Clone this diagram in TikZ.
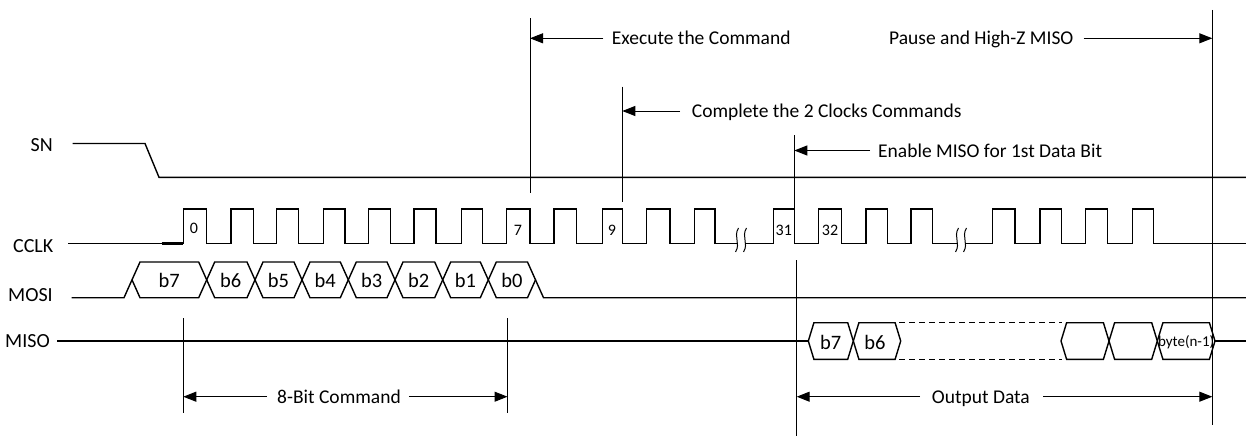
\documentclass[tikz,border=0pt]{standalone}
\usepackage{fontspec}
\setmainfont{Carlito}
\usetikzlibrary{arrows.meta}
\begin{document}
\begin{tikzpicture}[x=1pt,y=-1pt,
  sig/.style={line width=1.4pt, line join=miter},
  vline/.style={line width=1pt},
  dimarrow/.style={line width=1pt,-{Triangle[length=13pt,width=10pt]}},
  lbl/.style={font=\fontsize{19.5}{22}\selectfont, inner sep=0pt, text height=13pt, text depth=0pt},
  signame/.style={font=\fontsize{20}{22}\selectfont, inner sep=0pt, text height=13pt, text depth=0pt, anchor=east},
  hexl/.style={font=\fontsize{20.5}{22}\selectfont, inner sep=0pt, text height=14pt, text depth=0pt},
  num/.style={font=\fontsize{16}{18}\selectfont, inner sep=0pt, text height=10.5pt, text depth=0pt},
  small/.style={font=\fontsize{15}{17}\selectfont, inner sep=0pt, text height=11pt, text depth=0pt, anchor=west},
]
\useasboundingbox (0,0) rectangle (1246,436);

% ---------- signal names
\node[signame] (sn)   at (53,145.3)  {SN};
\node[signame] (cclk) at (53.5,245.8) {CCLK};
\node[signame] (mosi) at (53,294.7)  {MOSI};
\node[signame] (miso) at (50,341)    {MISO};

% ---------- SN
\draw[sig] (72.7,143.5) -- (145,143.5) -- (159,177.3) -- (1246,177.3);

% ---------- CCLK
\draw[sig] (68.3,243.3)
  foreach \r/\f in {183.3/206.7,231/253.3,276.7/298.3,323.3/345,368.3/390.7,414/436,461.7/482.3,506.7/530,554/576.7,602.3/622.3,646.7/670,694.3/715}
  { -- (\r,243.3) -- (\r,209) -- (\f,209) -- (\f,243.3) } -- (737,243.3);
\draw[sig] (745,243.3)
  foreach \r/\f in {773.3/794.3,818.3/841.7,866/887.3,911/932.3}
  { -- (\r,243.3) -- (\r,209) -- (\f,209) -- (\f,243.3) } -- (957,243.3);
\draw[sig] (965,243.3)
  foreach \r/\f in {992.7/1015,1040/1061.7,1085.7/1107.3,1132.7/1153.3}
  { -- (\r,243.3) -- (\r,209) -- (\f,209) -- (\f,243.3) } -- (1246,243.3);
\draw[line width=2.4pt] (161.7,243.3) -- (183.3,243.3);
% break marks
\foreach \bx in {737,745,957,965}
  \draw[line width=1pt] (\bx+1.5,228) .. controls (\bx-4,237) and (\bx+4,243) .. (\bx-1.5,252);

% clock numbers
\node[num] (n0)  at (194,228.5) {0};
\node[num] (n7)  at (518,230)   {7};
\node[num] (n9)  at (612,230)   {9};
\node[num] (n31) at (783.8,230) {31};
\node[num] (n32) at (830,230)   {32};

% ---------- MOSI
\draw[sig] (71.7,297.7) -- (124,297.7) -- (132,279.85);
\foreach \ca/\cb in {132/206.7,206.7/255,255/302,302/348.3,348.3/395,395/442.7,442.7/488.3,488.3/535.5}
  \draw[sig] (\ca,279.85) -- (\ca+8,262) -- (\cb-8,262) -- (\cb,279.85) -- (\cb-8,297.7) -- (\ca+8,297.7) -- cycle;
\draw[sig] (535.5,279.85) -- (543.5,297.7) -- (1246,297.7);
\node[hexl] (mb7) at (169.3,280.5) {b7};
\node[hexl] (mb6) at (230.8,280.5) {b6};
\node[hexl] (mb5) at (278.5,280.5) {b5};
\node[hexl] (mb4) at (325.1,280.5) {b4};
\node[hexl] (mb3) at (371.6,280.5) {b3};
\node[hexl] (mb2) at (418.8,280.5) {b2};
\node[hexl] (mb1) at (465.5,280.5) {b1};
\node[hexl] (mb0) at (511.9,280.5) {b0};

% ---------- MISO
\draw[sig] (57,341) -- (808.3,341);
\draw[sig] (1215,341) -- (1246,341);
\foreach \ca/\cb in {808.3/853.3,853.3/900.7,1061/1109,1109/1157.3,1157.3/1215}
  \draw[sig] (\ca,341) -- (\ca+5.6,322.7) -- (\cb-5.6,322.7) -- (\cb,341) -- (\cb-5.6,359.3) -- (\ca+5.6,359.3) -- cycle;
\draw[line width=1pt, dash pattern=on 6pt off 4pt] (899,322.7) -- (1062,322.7);
\draw[line width=1pt, dash pattern=on 6pt off 4pt] (899,359.3) -- (1062,359.3);
\node[hexl] (sb7) at (830.8,342) {b7};
\node[hexl] (sb6) at (875,342)   {b6};
\node[small] (sbn) at (1157.8,340.5) {byte(n-1)};

% ---------- marker lines
\coordinate (eT) at (530,18.3);    \coordinate (eB) at (530,193);
\coordinate (cT) at (622.3,86.7);  \coordinate (cB) at (622.3,201.7);
\coordinate (nT) at (794.3,135);   \coordinate (nB) at (794.3,209);
\coordinate (rT) at (1212.3,10);   \coordinate (rB) at (1212.3,425);
\coordinate (oT) at (796.7,260);   \coordinate (oB) at (796.7,436);
\coordinate (aT) at (183.3,318);   \coordinate (aB) at (183.3,413);
\coordinate (bT) at (507.5,318);   \coordinate (bB) at (507.5,413);
\foreach \t/\b in {eT/eB,cT/cB,nT/nB,rT/rB,oT/oB,aT/aB,bT/bB}
  \draw[vline] (\t) -- (\b);

% ---------- annotations
\node[lbl, anchor=west] (exe) at (611.7,38.3) {Execute the Command};
\draw[dimarrow] ([xshift=-8.4pt]exe.west) -- (eT |- exe.west);

\node[lbl, anchor=west] (pau) at (889,38.3) {Pause and High-Z MISO};
\draw[dimarrow] ([xshift=10pt]pau.east) -- (rT |- pau.east);

\node[lbl, anchor=west] (cmp) at (691.7,111) {Complete the 2 Clocks Commands};
\draw[dimarrow] ([xshift=-11.7pt]cmp.west) -- (cT |- cmp.west);

\node[lbl, anchor=west] (ena) at (878,150.5) {Enable MISO for 1st Data Bit};
\draw[dimarrow] ([xshift=-8pt]ena.west) -- (nT |- ena.west);

\node[lbl] (cmd) at (339,396.7) {8-Bit Command};
\draw[dimarrow] ([xshift=-10pt]cmd.west) -- (aT |- cmd.west);
\draw[dimarrow] ([xshift=8pt]cmd.east) -- (bT |- cmd.east);

\node[lbl, anchor=west] (out) at (931.7,396.7) {Output Data};
\draw[dimarrow] ([xshift=-11.7pt]out.west) -- (oT |- out.west);
\draw[dimarrow] ([xshift=13pt]out.east) -- (rT |- out.east);
\end{tikzpicture}
\end{document}
